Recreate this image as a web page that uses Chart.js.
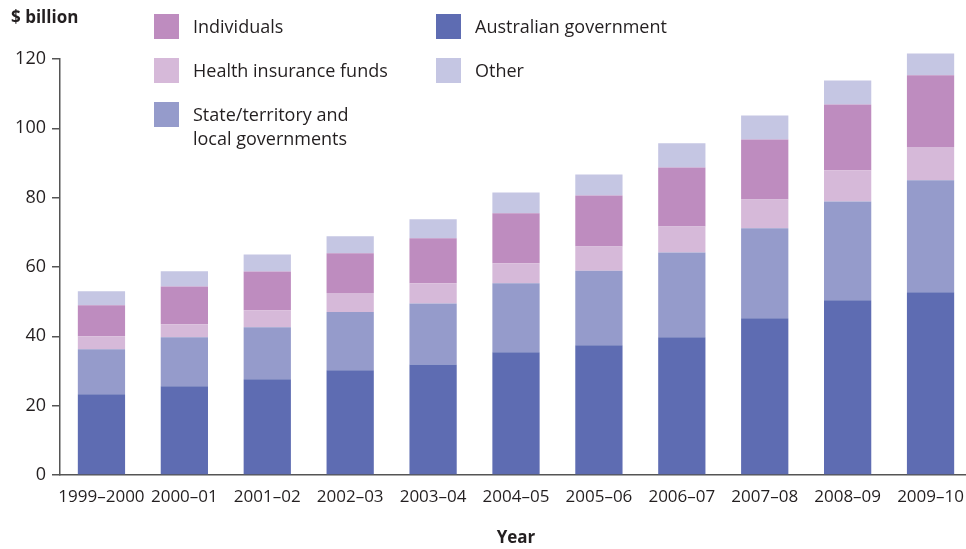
<!DOCTYPE html>
<html>
<head>
<meta charset="utf-8">
<script src="https://cdn.jsdelivr.net/npm/chart.js@4"></script>
<style>
  html, body { margin: 0; padding: 0; background: #fff; overflow: hidden; }
  #wrap { position: relative; width: 966px; height: 549px; overflow: hidden; font-family: "Open Sans", sans-serif; color: #231f20; }
  #box { position: absolute; left: 0; top: 0; width: 980px; height: 549px; }
  #unit { position: absolute; left: 11px; top: 5px; font-weight: bold; font-size: 17px; }
  .key { position: absolute; display: flex; align-items: flex-start; font-size: 18px; line-height: 24px; }
  .key span.sw { width: 25px; height: 25px; margin-right: 14px; flex: none; }
</style>
</head>
<body>
<div id="wrap">
  <div id="box"><canvas id="healthChart"></canvas></div>
  <div id="unit">$ billion</div>
  <div id="legend"></div>
</div>
<script>
// --- Data ($ billion) ---
const years = ["1999–2000", "2000–01", "2001–02", "2002–03", "2003–04", "2004–05",
               "2005–06", "2006–07", "2007–08", "2008–09", "2009–10"];
const australianGov = [23.3, 25.6, 27.6, 30.2, 31.9, 35.4, 37.4, 39.7, 45.2, 50.4, 52.7];
const stateLocalGov = [13.0, 14.1, 15.0, 16.8, 17.6, 19.9, 21.5, 24.5, 26.0, 28.5, 32.3];
const insuranceFunds = [3.7, 3.8, 4.9, 5.5, 5.8, 5.8, 7.0, 7.5, 8.3, 9.0, 9.6];
const individuals = [9.0, 10.9, 11.2, 11.5, 13.0, 14.4, 14.7, 17.0, 17.3, 19.0, 20.7];
const other = [4.0, 4.4, 4.9, 4.9, 5.5, 6.0, 6.1, 7.0, 6.9, 6.9, 6.3];
const yTicks = [0, 20, 40, 60, 80, 100, 120];

const colors = {
  aus: "#5e6cb2",
  state: "#959bcb",
  funds: "#d6b9d9",
  indiv: "#be8cbf",
  other: "#c5c6e3"
};

// --- Legend (two columns, HTML) ---
const legendItems = [
  { text: "Individuals", color: colors.indiv, x: 154, y: 14 },
  { text: "Health insurance funds", color: colors.funds, x: 154, y: 58 },
  { text: "State/territory and<br>local governments", color: colors.state, x: 154, y: 102 },
  { text: "Australian government", color: colors.aus, x: 436, y: 14 },
  { text: "Other", color: colors.other, x: 436, y: 58 }
];
const legend = document.getElementById("legend");
legendItems.forEach(item => {
  const div = document.createElement("div");
  div.className = "key";
  div.style.left = item.x + "px";
  div.style.top = item.y + "px";
  div.innerHTML = `<span class="sw" style="background:${item.color}"></span><span>${item.text}</span>`;
  legend.appendChild(div);
});

// --- Chart.js Setup ---
const font = { family: "'Open Sans', sans-serif", size: 18 };
const ink = "#231f20";

function series(label, data, color) {
  return { label, data, backgroundColor: color, borderWidth: 0, barPercentage: 0.57, categoryPercentage: 1, clip: false };
}

const ctx = document.getElementById("healthChart").getContext("2d");
new Chart(ctx, {
  type: "bar",
  data: {
    labels: years,
    datasets: [
      series("Australian government", australianGov, colors.aus),
      series("State/territory and local governments", stateLocalGov, colors.state),
      series("Health insurance funds", insuranceFunds, colors.funds),
      series("Individuals", individuals, colors.indiv),
      series("Other", other, colors.other)
    ]
  },
  options: {
    responsive: true,
    maintainAspectRatio: false,
    animation: false,
    layout: { padding: { top: 59, right: 8, left: 0, bottom: 0 } },
    plugins: {
      legend: { display: false },
      tooltip: { enabled: false }
    },
    scales: {
      x: {
        stacked: true,
        offset: true,
        grid: { display: false, drawTicks: false },
        border: { display: true, color: "#555", width: 1.5 },
        ticks: { color: ink, font: { ...font, size: 17 }, padding: 12, maxRotation: 0, autoSkip: false },
        title: { display: true, text: "Year", color: ink, font: { ...font, size: 17, weight: "bold" }, padding: { top: 10, bottom: 1 } },
        afterFit(scale) { scale.height = 74; }
      },
      y: {
        stacked: true,
        min: 0,
        max: 120,
        afterBuildTicks(scale) { scale.ticks = yTicks.map(v => ({ value: v })); },
        grid: { drawOnChartArea: false, drawTicks: true, tickLength: 8, color: "#555", lineWidth: 1.5 },
        border: { display: true, color: "#555", width: 1.5 },
        ticks: { color: ink, font, padding: 6 },
        afterFit(scale) { scale.width = 60; }
      }
    }
  }
});
</script>
</body>
</html>
